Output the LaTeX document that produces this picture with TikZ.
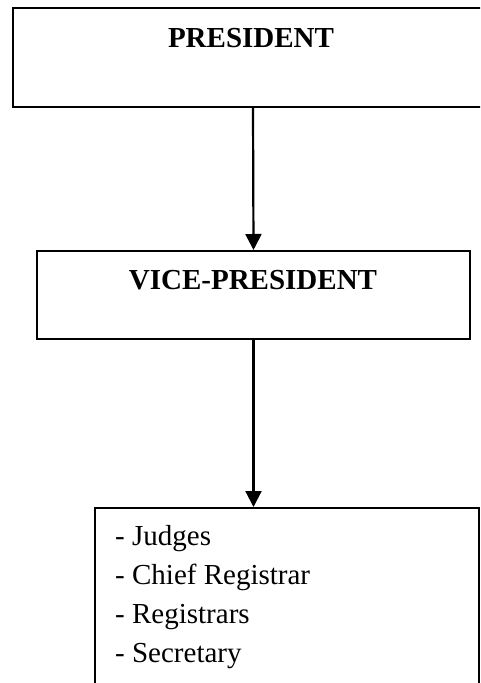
\documentclass[tikz,border=0pt]{standalone}
\usepackage{fontspec}
\setmainfont{Liberation Serif}
\usetikzlibrary{arrows.meta}
\tikzset{
  box/.style={draw=black, line width=2pt, inner sep=0pt, anchor=north west},
  title/.style={anchor=base, font=\fontsize{29}{35}\selectfont\bfseries, inner sep=0pt},
  item/.style={anchor=base west, font=\fontsize{29}{35}\selectfont, inner sep=0pt},
  link/.style={line width=2.2pt, -{Triangle[width=16pt,length=16pt]}}
}
\begin{document}
\begin{tikzpicture}[x=1pt,y=-1pt]
\useasboundingbox (0,0) rectangle (480,683);
\clip (0,0) rectangle (480,683);
\node[box, minimum width=480pt, minimum height=99pt] (pres) at (12,7) {};
\node[title] (prest) at (251,47) {PRESIDENT};
\node[box, minimum width=433pt, minimum height=88pt] (vice) at (36,250) {};
\node[title] (vicet) at (253,289) {VICE-PRESIDENT};
\node[box, minimum width=384pt, minimum height=230pt] (list) at (94,507) {};
\node[item] (i1) at (115,545) {- Judges};
\node[item] (i2) at (115,584) {- Chief Registrar};
\node[item] (i3) at (115,623) {- Registrars};
\node[item] (i4) at (115,662) {- Secretary};
\draw[link] (pres.south) -- (vice.north);
\draw[link] (vice.south) -- (vice.south |- list.north);
\end{tikzpicture}
\end{document}
